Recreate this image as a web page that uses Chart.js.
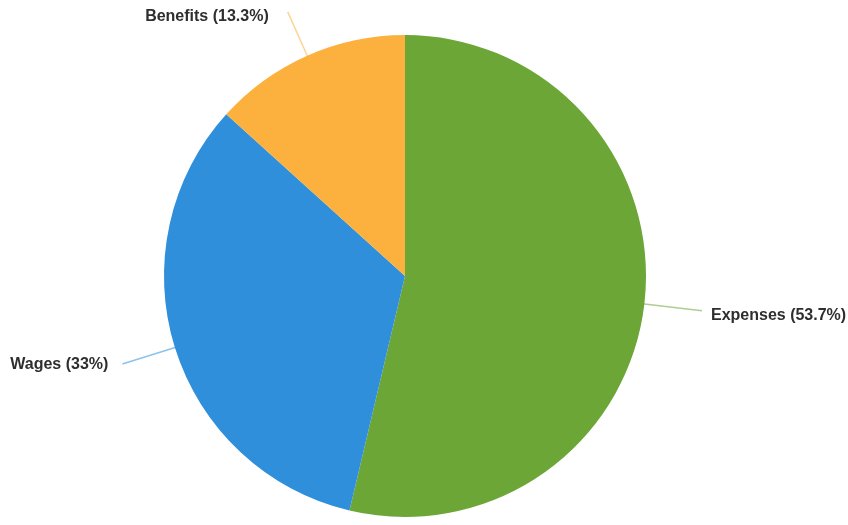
<!DOCTYPE html>
<html>
<head>
<meta charset="utf-8">
<script src="https://cdn.jsdelivr.net/npm/chart.js@4.4.1/dist/chart.umd.min.js"></script>
<style>
  html, body { margin: 0; padding: 0; background: #ffffff; }
  #wrap { width: 848px; height: 525px; }
</style>
</head>
<body>
<div id="wrap"><canvas id="c" width="848" height="525"></canvas></div>
<script>
// Budget split by category (percent of total)
const categories = ['Expenses', 'Wages', 'Benefits'];
const shares = [53.7, 33, 13.3];
const sliceColors = ['#6ba637', '#2f8fdb', '#fcb03d'];

// Draws a leader line and "Name (x%)" label outside each slice
const outsideLabels = {
  id: 'outsideLabels',
  afterDatasetsDraw(chart, args, opts) {
    const ctx = chart.ctx;
    const meta = chart.getDatasetMeta(0);
    ctx.save();
    ctx.font = 'bold 16px "Liberation Sans", Arial, sans-serif';
    ctx.fillStyle = '#2e2e2e';
    ctx.textBaseline = 'middle';
    meta.data.forEach((arc, i) => {
      const p = arc.getProps(['x', 'y', 'startAngle', 'endAngle', 'outerRadius'], true);
      const mid = (p.startAngle + p.endAngle) / 2;
      const c = Math.cos(mid), s = Math.sin(mid);
      const r0 = p.outerRadius - 2, r1 = p.outerRadius + opts.lineLength[i];
      const x0 = p.x + c * r0, y0 = p.y + s * r0;
      const x1 = p.x + c * r1, y1 = p.y + s * r1;
      ctx.strokeStyle = sliceColors[i];
      ctx.globalAlpha = 0.55;
      ctx.lineWidth = 1.5;
      ctx.beginPath();
      ctx.moveTo(x0, y0);
      ctx.lineTo(x1, y1);
      ctx.stroke();
      ctx.globalAlpha = 1;
      const right = c >= 0;
      ctx.textAlign = right ? 'left' : 'right';
      const tx = x1 + (right ? opts.gap[i] : -opts.gap[i]);
      const ty = y1 + opts.dy[i];
      ctx.fillText(categories[i] + ' (' + shares[i] + '%)', tx, ty);
    });
    ctx.restore();
  }
};

new Chart(document.getElementById('c'), {
  type: 'pie',
  data: {
    labels: categories,
    datasets: [{
      data: shares,
      backgroundColor: sliceColors,
      borderWidth: 0
    }]
  },
  options: {
    responsive: false,
    animation: false,
    layout: { padding: { left: 163, right: 201, top: 35, bottom: 8 } },
    plugins: {
      legend: { display: false },
      tooltip: { enabled: false },
      outsideLabels: {
        lineLength: [58, 55, 48],
        gap: [9, 14, 19],
        dy: [5, 1, 5]
      }
    }
  },
  plugins: [outsideLabels]
});
</script>
</body>
</html>
